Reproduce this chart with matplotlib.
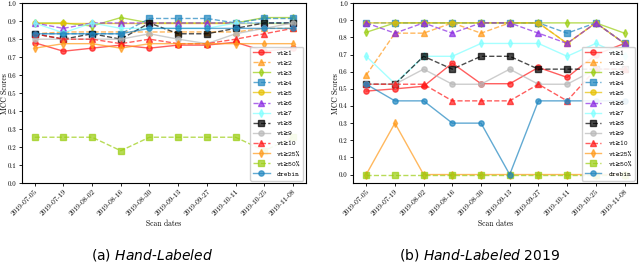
import matplotlib
matplotlib.use("Agg")
import matplotlib.pyplot as plt

dates = ["2019-07-05", "2019-07-19", "2019-08-02", "2019-08-16", "2019-08-30",
         "2019-09-13", "2019-09-27", "2019-10-11", "2019-10-25", "2019-11-08"]
labels = ["vt≥1", "vt≥2", "vt≥3", "vt≥4", "vt≥5", "vt≥6", "vt≥7", "vt≥8",
          "vt≥9", "vt≥10", "vt≥25%", "vt≥50%", "drebin"]

# (a) Hand-Labeled
a_vt1 = [0.78, 0.733, 0.75, 0.767, 0.75, 0.767, 0.767, 0.783, 0.733, 0.75]
a_vt2 = [0.83, 0.84, 0.84, 0.84, 0.84, 0.84, 0.84, 0.84, 0.86, 0.86]
a_vt3 = [0.89, 0.89, 0.873, 0.92, 0.89, 0.89, 0.89, 0.89, 0.92, 0.92]
a_vt4 = [0.83, 0.83, 0.83, 0.83, 0.915, 0.915, 0.915, 0.89, 0.915, 0.915]
a_vt5 = [0.89, 0.89, 0.89, 0.89, 0.89, 0.89, 0.89, 0.89, 0.89, 0.89]
a_vt6 = [0.89, 0.86, 0.89, 0.89, 0.89, 0.89, 0.89, 0.89, 0.89, 0.89]
a_vt7 = [0.89, 0.835, 0.89, 0.86, 0.86, 0.86, 0.86, 0.89, 0.89, 0.89]
a_vt8 = [0.83, 0.80, 0.83, 0.80, 0.89, 0.83, 0.83, 0.86, 0.89, 0.89]
a_vt9 = [0.80, 0.80, 0.80, 0.80, 0.83, 0.80, 0.775, 0.83, 0.86, 0.89]
a_vt10 = [0.83, 0.80, 0.80, 0.775, 0.80, 0.775, 0.775, 0.80, 0.83, 0.86]
a_vt25 = [0.75, 0.775, 0.775, 0.75, 0.775, 0.775, 0.775, 0.775, 0.775, 0.775]
a_vt50 = [0.255, 0.255, 0.255, 0.18, 0.255, 0.255, 0.255, 0.255, 0.18, 0.255]
a_drebin = [0.83, 0.83, 0.83, 0.83, 0.86, 0.86, 0.86, 0.86, 0.86, 0.86]

# (b) Hand-Labeled 2019
b_vt1 = [0.487, 0.50, 0.515, 0.65, 0.53, 0.53, 0.625, 0.567, 0.70, 0.765]
b_vt2 = [0.58, 0.825, 0.825, 0.885, 0.825, 0.885, 0.885, 0.765, 0.885, 0.765]
b_vt3 = [0.83, 0.885, 0.885, 0.885, 0.885, 0.885, 0.885, 0.885, 0.885, 0.825]
b_vt4 = [0.885, 0.885, 0.885, 0.885, 0.885, 0.885, 0.885, 0.825, 0.885, 0.765]
b_vt5 = [0.885, 0.885, 0.885, 0.885, 0.885, 0.885, 0.885, 0.765, 0.885, 0.765]
b_vt6 = [0.885, 0.825, 0.885, 0.825, 0.885, 0.885, 0.825, 0.765, 0.885, 0.765]
b_vt7 = [0.69, 0.53, 0.69, 0.69, 0.765, 0.765, 0.765, 0.69, 0.765, 0.69]
b_vt8 = [0.527, 0.527, 0.69, 0.615, 0.69, 0.69, 0.615, 0.615, 0.615, 0.615]
b_vt9 = [0.527, 0.527, 0.615, 0.527, 0.527, 0.615, 0.527, 0.527, 0.615, 0.615]
b_vt10 = [0.527, 0.527, 0.527, 0.43, 0.43, 0.43, 0.527, 0.43, 0.615, 0.615]
b_vt25 = [0.0, 0.30, 0.0, 0.0, 0.0, 0.0, 0.0, 0.0, 0.0, 0.0]
b_vt50 = [0.0, 0.0, 0.0, 0.0, 0.0, 0.0, 0.0, 0.0, 0.0, 0.0]
b_drebin = [0.527, 0.43, 0.43, 0.30, 0.30, 0.0, 0.43, 0.43, 0.43, 0.43]

series_a = [a_vt1, a_vt2, a_vt3, a_vt4, a_vt5, a_vt6, a_vt7, a_vt8, a_vt9,
            a_vt10, a_vt25, a_vt50, a_drebin]
series_b = [b_vt1, b_vt2, b_vt3, b_vt4, b_vt5, b_vt6, b_vt7, b_vt8, b_vt9,
            b_vt10, b_vt25, b_vt50, b_drebin]

colors = ["#ff1a1a", "#ff9a1a", "#9acd10", "#1f86c0", "#e6c000", "#8a2be2",
          "#80ffff", "#000000", "#b8b8b8", "#ff1a1a", "#ff9a1a", "#9acd10", "#1f86c0"]
markers = ["o", "^", "d", "s"] * 4
styles = ["-", "--"] * 7

plt.rcParams["axes.unicode_minus"] = False

fig = plt.figure(figsize=(6.4, 2.65), dpi=100)
axa = fig.add_axes([0.034, 0.309, 0.444, 0.679])
axb = fig.add_axes([0.552, 0.309, 0.444, 0.679])

x = list(range(len(dates)))
for ax, series, ylim in ((axa, series_a, (0.0, 1.0)), (axb, series_b, (-0.05, 1.0))):
    for i, (lab, vals) in enumerate(zip(labels, series)):
        ax.plot(x, vals, linestyle=styles[i], marker=markers[i], color=colors[i],
                alpha=0.7, lw=1.0, markersize=3.8, label=lab)
    ax.set_ylim(*ylim)
    ax.set_yticks([i / 10 for i in range(11)])
    ax.set_yticklabels([f"{i / 10:.1f}" for i in range(11)], family="cmr10", fontsize=5)
    ax.set_xticks(x)
    ax.set_xticklabels(dates, rotation=45, ha="right", rotation_mode="anchor",
                       family="cmr10", fontsize=5.3)
    ax.tick_params(length=2.5, width=0.6, pad=1.5)
    ax.set_xlabel("Scan dates", family="cmr10", fontsize=5.5, labelpad=2)
    ax.set_ylabel("MCC Scores", family="cmr10", fontsize=5.5)
    ax.yaxis.set_label_coords(-0.046, 0.5)
    for s in ax.spines.values():
        s.set_linewidth(0.8)
    ax.legend(loc="lower right", prop={"family": ["cmtt10", "DejaVu Sans Mono"], "size": 5.2},
              labelspacing=0.42, handlelength=2.3, handletextpad=1.0,
              borderaxespad=0.35, borderpad=0.4, framealpha=0.9)

fig.text(0.238, 0.02, "(a) $\\mathit{Hand}$-$\\mathit{Labeled}$", ha="center",
         fontsize=10, family="DejaVu Sans")
fig.text(0.75, 0.02, "(b) $\\mathit{Hand}$-$\\mathit{Labeled\\ 2019}$", ha="center",
         fontsize=10, family="DejaVu Sans")

fig.savefig("out.png", dpi=100)
